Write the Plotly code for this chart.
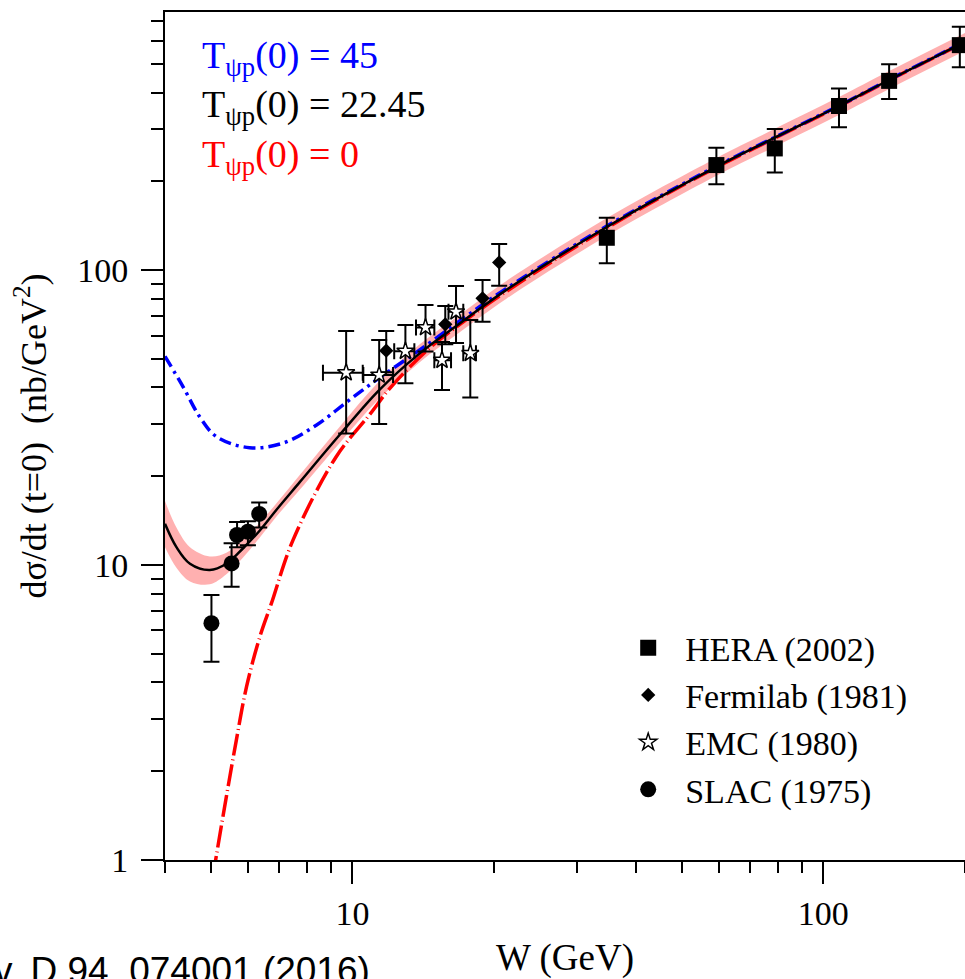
import plotly.graph_objects as go

# ---------------- data ----------------
# HERA (2002)
hera_w = [34.7, 59.3, 78.9, 108, 138, 195]
hera_y = [128.7, 227, 258.5, 360, 438, 579]
hera_up = [21.7, 33, 42.5, 53, 61, 89]
hera_dn = [23.3, 31.4, 44.1, 55, 58, 92]

# Fermilab (1981)
fnal_w = [11.8, 15.75, 18.9, 20.5]
fnal_y = [53.3, 65.5, 80.2, 106.2]
fnal_up = [8.8, 10.0, 12.3, 16.3]
fnal_dn = [8.3, 9.5, 13.4, 17.7]

# EMC (1980)
emc_w = [9.7, 11.4, 12.96, 14.3, 15.5, 16.6, 17.8]
emc_y = [44.9, 44.1, 53.1, 63.9, 49.5, 72.2, 52.2]
emc_up = [17.2, 13.8, 12.0, 12.2, 7.5, 16.1, 15.5]
emc_dn = [17.0, 14.0, 11.8, 10.9, 10.3, 15.6, 15.2]
emc_wp = [0.82, 0.80, 0.58, 0.63, 0.70, 0.60, 0.50]
emc_wm = [1.04, 0.85, 0.69, 0.65, 0.57, 0.60, 0.60]

# SLAC (1975)
slac_w = [5.02, 5.54, 5.69, 6.0, 6.34]
slac_y = [6.35, 10.13, 12.64, 12.97, 14.9]
slac_up = [1.56, 1.72, 1.36, 1.1, 1.4]
slac_dn = [1.65, 1.69, 1.14, 1.3, 1.5]

# model curves
mid_w = [4.0, 4.23, 4.52, 4.98, 5.40, 5.86, 6.36, 6.90, 7.73, 9.39, 11.4, 13.9,
         16.9, 21.2, 34.7, 59.3, 78.9, 108, 138, 200]
mid_y = [13.8, 11.5, 10.1, 9.62, 10.1, 11.4, 13.1, 15.4, 19.1, 27.6, 39.2, 52.2,
         65.9, 85.5, 140, 224, 281, 360, 441, 594]
band_hi = [16.5, 13.4, 11.5, 10.7, 11.0, 12.2, 13.9, 16.2, 20.2, 29.4, 42.0, 56.0,
           70.6, 91.7, 150.1, 240.1, 301.2, 385.9, 472.8, 636.8]
band_lo = [11.5, 9.8, 8.8, 8.6, 9.3, 10.6, 12.4, 14.6, 18.0, 25.9, 36.6, 48.7,
           61.5, 79.8, 130.6, 209.0, 262.1, 335.8, 411.4, 554.1]

hi_w = [4.0, 4.37, 4.74, 5.15, 6.05, 7.12, 8.38, 9.86, 11.5, 13.9, 17.4, 21.2,
        34.7, 59.3, 78.9, 108, 138, 200]
hi_y = [51, 40.2, 31.8, 27.2, 25.0, 25.9, 29.8, 36.3, 43.5, 53.6, 69.5, 86.5,
        141, 225, 282, 361, 442, 595]

lo_w = [5.05, 5.15, 5.40, 5.67, 5.96, 6.36, 6.73, 7.48, 9.24, 10.87, 12.09,
        14.57, 17.4, 21.2, 34.7, 59.3, 78.9, 108, 138, 200]
lo_y = [0.87, 1.05, 1.64, 2.55, 3.87, 5.71, 7.41, 12.15, 23.3, 32.3, 40.2,
        54.3, 67.7, 84.5, 139, 223, 280, 359, 440, 593]

x_major = [10, 100]
x_minor = [4, 5, 6, 7, 8, 9, 20, 30, 40, 50, 60, 70, 80, 90, 200]
y_major = [1, 10, 100]
y_minor = [2, 3, 4, 5, 6, 7, 8, 9, 20, 30, 40, 50, 60, 70, 80, 90,
           200, 300, 400, 500, 600, 700]

SERIF = "Liberation Serif"
NB = "\u00a0\u00a0"

fig = go.Figure()

# uncertainty band of the T(0)=22.45 curve
fig.add_trace(go.Scatter(x=mid_w, y=band_lo, mode="lines", line=dict(width=0, shape="spline"),
                         hoverinfo="skip", showlegend=False))
fig.add_trace(go.Scatter(x=mid_w, y=band_hi, mode="lines", line=dict(width=0, shape="spline"),
                         fill="tonexty", fillcolor="rgba(255,150,150,0.75)",
                         hoverinfo="skip", showlegend=False))

fig.add_trace(go.Scatter(x=lo_w, y=lo_y, mode="lines", showlegend=False,
                         line=dict(color="#ff0000", width=3.5, shape="spline",
                                   dash="22px,4px,1px,4px")))
fig.add_trace(go.Scatter(x=hi_w, y=hi_y, mode="lines", showlegend=False,
                         line=dict(color="#0000ff", width=3.5, shape="spline",
                                   dash="12px,5px,3px,5px")))
fig.add_trace(go.Scatter(x=mid_w, y=mid_y, mode="lines", showlegend=False,
                         line=dict(color="black", width=2.5, shape="spline")))

ebar = dict(type="data", symmetric=False, color="black", thickness=2, width=8)

fig.add_trace(go.Scatter(
    x=hera_w, y=hera_y, mode="markers", name=NB + "HERA (2002)",
    marker=dict(symbol="square", size=16, color="black"),
    error_y=dict(array=hera_up, arrayminus=hera_dn, **ebar)))
fig.add_trace(go.Scatter(
    x=fnal_w, y=fnal_y, mode="markers", name=NB + "Fermilab (1981)",
    marker=dict(symbol="diamond", size=11, color="black"),
    error_y=dict(array=fnal_up, arrayminus=fnal_dn, **ebar)))
fig.add_trace(go.Scatter(
    x=emc_w, y=emc_y, mode="markers", name=NB + "EMC (1980)",
    marker=dict(symbol="star", size=13, color="white", line=dict(color="black", width=1.5)),
    error_y=dict(array=emc_up, arrayminus=emc_dn, **ebar),
    error_x=dict(array=emc_wp, arrayminus=emc_wm, **ebar)))
fig.add_trace(go.Scatter(
    x=slac_w, y=slac_y, mode="markers", name=NB + "SLAC (1975)",
    marker=dict(symbol="circle", size=16, color="black"),
    error_y=dict(array=slac_up, arrayminus=slac_dn, **ebar)))

axis_common = dict(type="log", showgrid=False, zeroline=False, showline=True,
                   linecolor="black", linewidth=2, ticks="outside", ticklen=22,
                   tickwidth=2, tickcolor="black",
                   tickfont=dict(family=SERIF, size=34, color="black"))

fig.update_xaxes(**axis_common, range=[0.60206, 2.30103], mirror=True,
                 tickmode="array", tickvals=x_major, ticktext=[str(v) for v in x_major],
                 minor=dict(tickmode="array", tickvals=x_minor, ticks="outside",
                            ticklen=11, tickwidth=2, tickcolor="black", showgrid=False),
                 title=dict(text="W (GeV)", font=dict(family=SERIF, size=37, color="black"),
                            standoff=22))
fig.update_yaxes(**axis_common, range=[0, 2.875],
                 tickmode="array", tickvals=y_major, ticktext=[str(v) for v in y_major],
                 ticklabelstandoff=6,
                 minor=dict(tickmode="array", tickvals=y_minor, ticks="outside",
                            ticklen=12, tickwidth=2, tickcolor="black", showgrid=False),
                 title=dict(text="dσ/dt (t=0)  (nb/GeV<sup>2</sup>)",
                            font=dict(family=SERIF, size=36, color="black"), standoff=20))

fig.add_annotation(
    xref="paper", yref="paper", x=0.04375, y=0.976, xanchor="left", yanchor="top",
    align="left", showarrow=False,
    font=dict(family=SERIF, size=38, color="black"),
    text=("<span style='color:#0000ff'>T<sub>ψp</sub>(0) = 45</span><br>"
          "T<sub>ψp</sub>(0) = 22.45<br>"
          "<span style='color:#ff0000'>T<sub>ψp</sub>(0) = 0</span>"))

fig.add_annotation(
    xref="paper", yref="paper", x=(372 - 165) / 800, y=-0.157,
    xanchor="right", yanchor="bottom", showarrow=False,
    font=dict(family="Liberation Sans", size=37, color="black"),
    text="Phys. Rev. D 94, 074001 (2016)")

fig.update_layout(
    width=965, height=979,
    margin=dict(l=165, r=0, t=12, b=119),
    paper_bgcolor="white", plot_bgcolor="white",
    legend=dict(x=0.579, y=0.284, xanchor="left", yanchor="top", traceorder="normal",
                bgcolor="rgba(0,0,0,0)", borderwidth=0,
                font=dict(family=SERIF, size=34, color="black")),
)

fig.write_html("out.html")
